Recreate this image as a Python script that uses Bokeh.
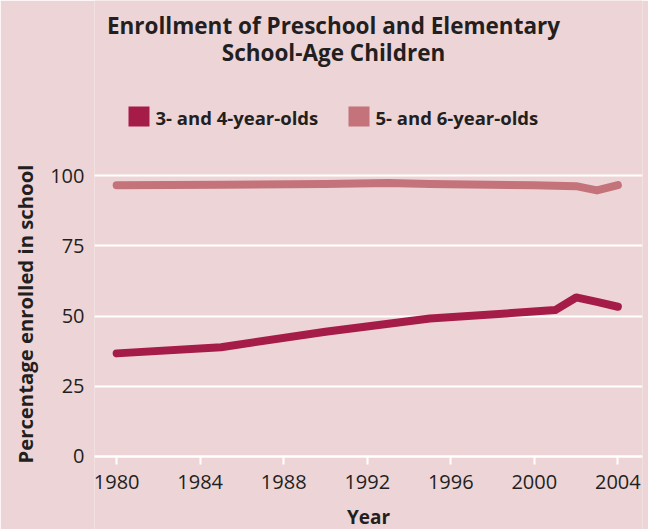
from bokeh.plotting import figure
from bokeh.models import Label, BoxAnnotation, Range1d, FixedTicker, Title
from bokeh.embed import file_html
from bokeh.resources import INLINE

years_34 = [1980, 1985, 1990, 1995, 2001, 2002, 2003, 2004]
pct_34 = [36.7, 38.9, 44.4, 49.1, 52.1, 56.6, 55.0, 53.3]
years_56 = [1980, 1985, 1990, 1993, 1995, 2000, 2002, 2003, 2004]
pct_56 = [96.5, 96.7, 97.0, 97.3, 97.0, 96.5, 96.2, 94.7, 96.6]
x_ticks = [1980, 1984, 1988, 1992, 1996, 2000, 2004]
y_ticks = [0, 25, 50, 75, 100]
series_names = ["3- and 4-year-olds", "5- and 6-year-olds"]
title_lines = ["Enrollment of Preschool and Elementary", "School-Age Children"]
x_title = "Year"
y_title = "Percentage enrolled in school"

BG = "#EDD5D7"
C34 = "#A51C48"
C56 = "#C4737B"
TXT = "#231F20"
FONT = "Open Sans"

p = figure(width=648, height=529, output_backend="svg", toolbar_location=None, title=None,
           x_range=Range1d(1978.94, 2005.18), y_range=Range1d(-25.98, 162.28),
           min_border_left=91, min_border_right=6, min_border_top=0, min_border_bottom=0)
p.background_fill_color = BG
p.border_fill_color = BG
p.outline_line_color = None

p.xgrid.grid_line_color = None
p.ygrid.grid_line_color = "white"
p.ygrid.grid_line_width = 2
p.ygrid.ticker = FixedTicker(ticks=y_ticks)

p.xaxis.fixed_location = 0
p.xaxis.ticker = FixedTicker(ticks=x_ticks)
p.xaxis.axis_line_color = "white"
p.xaxis.axis_line_width = 2
p.xaxis.major_tick_line_color = "white"
p.xaxis.major_tick_line_width = 2
p.xaxis.major_tick_out = 8
p.xaxis.major_tick_in = 0
p.xaxis.minor_tick_line_color = None
p.xaxis.minor_tick_out = 0
p.xaxis.major_label_text_font = FONT
p.xaxis.major_label_text_font_size = "20px"
p.xaxis.major_label_text_color = TXT
p.xaxis.major_label_standoff = 11
p.xaxis.axis_label = x_title
p.xaxis.axis_label_text_font = FONT
p.xaxis.axis_label_text_font_style = "bold"
p.xaxis.axis_label_text_font_size = "19px"
p.xaxis.axis_label_text_color = TXT
p.xaxis.axis_label_standoff = 11

p.yaxis.ticker = FixedTicker(ticks=y_ticks)
p.yaxis.axis_line_color = None
p.yaxis.major_tick_line_color = None
p.yaxis.major_tick_out = 0
p.yaxis.major_tick_in = 0
p.yaxis.minor_tick_line_color = None
p.yaxis.minor_tick_out = 0
p.yaxis.major_label_text_font = FONT
p.yaxis.major_label_text_font_size = "20px"
p.yaxis.major_label_text_color = TXT
p.yaxis.major_label_standoff = 10
p.yaxis.axis_label = None

p.add_layout(Title(text=y_title, align="left", offset=66, standoff=17,
                   text_line_height=0.8,
                   text_font=FONT, text_font_style="bold", text_font_size="20.3px",
                   text_color=TXT), "left")

r56 = p.line(years_56, pct_56, line_color=C56, line_width=8, line_cap="round", line_join="round")
r34 = p.line(years_34, pct_34, line_color=C34, line_width=8, line_cap="round", line_join="round")

# legend (screen units relative to the plot frame, y upward from frame bottom)
base = 73
for i, (name, col) in enumerate(zip(series_names, [C34, C56])):
    x0 = 34 + 220 * i
    p.add_layout(BoxAnnotation(left=x0, right=x0 + 21, bottom=base + 330, top=base + 350,
                               left_units="screen", right_units="screen",
                               bottom_units="screen", top_units="screen",
                               fill_color=col, fill_alpha=1, line_color=None))
    p.add_layout(Label(x=x0 + 27, y=base + 339, x_units="screen", y_units="screen", text=name,
                       text_align="left", text_baseline="middle", text_font=FONT,
                       text_font_style="bold", text_font_size="18.5px", text_color=TXT))

for i, t in enumerate(title_lines):
    p.add_layout(Label(x=239, y=base + 431 - 27 * i, x_units="screen", y_units="screen", text=t,
                       text_align="center", text_baseline="middle", text_font=FONT,
                       text_font_style="bold", text_font_size="22.5px", text_color=TXT))

open("out.html", "w").write(file_html(p, INLINE))
